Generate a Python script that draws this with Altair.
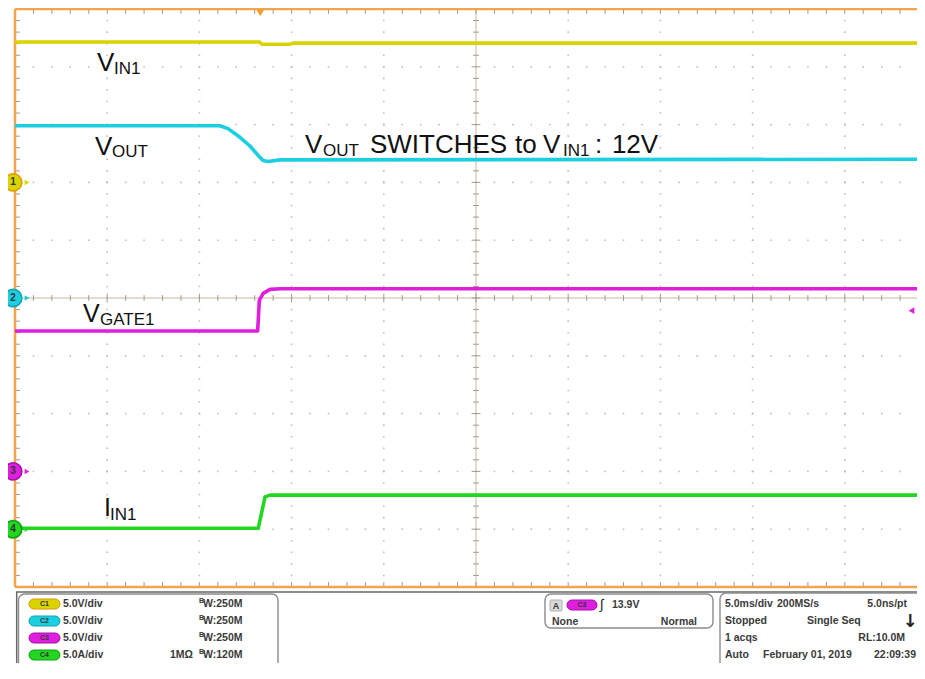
import altair as alt
import numpy as np
import pandas as pd

# ---------------- data ----------------
channels = ["C1", "C2", "C3", "C4"]
names = ["VIN1", "VOUT", "VGATE1", "IIN1"]
per_div = [5.0, 5.0, 5.0, 5.0]          # V/div (A/div for C4)
ground_div = [2.0, 0.0, -3.0, -4.0]     # ground-marker position, divisions from centre
trace_colors = ["#d9d300", "#1ccfe0", "#e01ee0", "#22d622"]
edge_colors = ["#e09a00", "#0fa5b5", "#a810a8", "#10a010"]

# time in ms, 5 ms/div, 0 = screen centre
vin1_t = [-25.0, -11.75, -11.6, -10.1, -9.9, 24.35]
vin1_v = [12.15, 12.15, 11.95, 11.95, 12.05, 12.05]
vout_t = [-25.0, -13.88, -13.45, -12.80, -12.26, -11.82, -11.55, -11.28, -10.63, 24.35]
vout_v = [14.9, 14.9, 14.65, 13.9, 13.15, 12.35, 11.9, 11.8, 11.95, 12.0]
vgate_t = [-25.0, -11.84, -11.75, -11.54, -11.17, -10.63, 24.35]
vgate_v = [12.15, 12.15, 14.8, 15.4, 15.75, 15.8, 15.8]
iin_t = [-25.0, -11.81, -11.44, -11.17, 24.35]
iin_a = [0.08, 0.08, 2.8, 2.95, 2.95]

trigger_t = -11.7
trigger_level_v = 13.9   # on C3

PX_PER_MS = 18.44
PLOT_W, PLOT_H = 902, 578
T0 = -25.0
T1 = T0 + PLOT_W / PX_PER_MS

xs = alt.Scale(domain=[T0, T1], nice=False, zero=False)
ys = alt.Scale(domain=[-5, 5], nice=False, zero=False)


def X(f="t"):
    return alt.X(f"{f}:Q", scale=xs, axis=None)


def Y(f="d"):
    return alt.Y(f"{f}:Q", scale=ys, axis=None)


layers = []

# ---------------- graticule ----------------
major_t = [-20, -15, -10, -5, 5, 10, 15, 20]
major_d = [-4, -3, -2, -1, 1, 2, 3, 4]
minor_t = [float(v) for v in np.arange(-25, 24, 1.0)]
minor_d = [round(float(v), 3) for v in np.arange(-5, 5.001, 0.2)]

dots = [{"t": a, "d": b} for a in major_t for b in minor_d] + \
       [{"t": a, "d": b} for b in major_d for a in minor_t]
layers.append(alt.Chart(pd.DataFrame(dots)).mark_square(size=2.5, color="#b8b8b8", opacity=0.9)
              .encode(x=X(), y=Y()))

# centre cross
layers.append(alt.Chart(pd.DataFrame({"t": [T0], "t2": [T1], "d": [0.0]}))
              .mark_rule(color="#c8b89e", strokeWidth=1)
              .encode(x=X(), x2="t2:Q", y=Y()))
layers.append(alt.Chart(pd.DataFrame({"t": [0.0], "d": [-5.0], "d2": [5.0]}))
              .mark_rule(color="#c8b89e", strokeWidth=1)
              .encode(x=X(), y=Y(), y2="d2:Q"))

tick_rows = []
for t in minor_t:
    big = (t % 5 == 0)
    h = 0.075 if big else 0.05
    tick_rows.append({"t": t, "t2": t, "d": -h, "d2": h})          # centre horizontal
    tick_rows.append({"t": t, "t2": t, "d": 5.0, "d2": 4.915})      # top border
    tick_rows.append({"t": t, "t2": t, "d": -5.0, "d2": -4.915})    # bottom border
for d in minor_d:
    big = abs(d - round(d)) < 1e-6
    w = 0.24 if big else 0.16
    tick_rows.append({"t": -w, "t2": w, "d": d, "d2": d})          # centre vertical
    tick_rows.append({"t": T0, "t2": T0 + 0.27, "d": d, "d2": d})  # left border
layers.append(alt.Chart(pd.DataFrame(tick_rows)).mark_rule(color="#a39a8a", strokeWidth=1)
              .encode(x=X(), x2="t2:Q", y=Y(), y2="d2:Q"))

# orange frame
frame = pd.DataFrame({"t": [T0, T0, T0], "t2": [T0, T1 + 1, T1 + 1],
                      "d": [-5.0, 5.0, -5.0], "d2": [5.0, 5.0, -5.0]})
layers.append(alt.Chart(frame).mark_rule(color="#f2a54a", strokeWidth=2.5, clip=False)
              .encode(x=X(), x2="t2:Q", y=Y(), y2="d2:Q"))

# ---------------- traces ----------------
rows = []
for ch, tt, vv, s, g in zip(channels, [vin1_t, vout_t, vgate_t, iin_t],
                            [vin1_v, vout_v, vgate_v, iin_a], per_div, ground_div):
    for i, (a, b) in enumerate(zip(tt, vv)):
        rows.append({"ch": ch, "i": i, "t": a, "val": b, "d": b / s + g})
traces = pd.DataFrame(rows)
layers.append(alt.Chart(traces).mark_line(strokeWidth=3.6, clip=True, strokeJoin="round")
              .encode(x=X(), y=Y(), order="i:Q",
                      color=alt.Color("ch:N", scale=alt.Scale(domain=channels, range=trace_colors),
                                      legend=None)))

# ---------------- annotations ----------------
ann = pd.DataFrame([
    {"text": "V", "t": -20.55, "d": 3.93, "fs": 26},
    {"text": "IN1", "t": -19.63, "d": 3.875, "fs": 17},
    {"text": "V", "t": -20.66, "d": 2.474, "fs": 26},
    {"text": "OUT", "t": -19.74, "d": 2.44, "fs": 17},
    {"text": "V", "t": -9.27, "d": 2.509, "fs": 26},
    {"text": "OUT", "t": -8.30, "d": 2.457, "fs": 17},
    {"text": "SWITCHES", "t": -5.75, "d": 2.509, "fs": 26},
    {"text": "to", "t": 2.12, "d": 2.509, "fs": 26},
    {"text": "V", "t": 3.63, "d": 2.509, "fs": 26},
    {"text": "IN1", "t": 4.72, "d": 2.457, "fs": 17},
    {"text": ":", "t": 6.45, "d": 2.509, "fs": 26},
    {"text": "12V", "t": 7.37, "d": 2.509, "fs": 26},
    {"text": "V", "t": -21.31, "d": -0.415, "fs": 25},
    {"text": "GATE1", "t": -20.39, "d": -0.467, "fs": 17},
    {"text": "I", "t": -20.17, "d": -3.77, "fs": 25},
    {"text": "IN1", "t": -19.85, "d": -3.84, "fs": 17},
])
layers.append(alt.Chart(ann).mark_text(align="left", baseline="alphabetic", font="Liberation Sans",
                                       color="#111111")
              .encode(x=X(), y=Y(), text="text:N", size=alt.Size("fs:Q", scale=None, legend=None)))

# ---------------- channel ground markers & trigger markers ----------------
mk = pd.DataFrame({"ch": channels, "lab": ["1", "2", "3", "4"], "t": [-25.1] * 4,
                   "ta": [-24.35] * 4, "d": ground_div})
ccol = alt.Scale(domain=channels, range=trace_colors)
layers.append(alt.Chart(mk).mark_point(shape="triangle-right", filled=True, size=30, opacity=1, clip=False)
              .encode(x=X("ta"), y=Y(), color=alt.Color("ch:N", scale=ccol, legend=None)))
layers.append(alt.Chart(mk).mark_circle(size=300, opacity=1, strokeWidth=1.6, clip=False)
              .encode(x=X(), y=Y(), color=alt.Color("ch:N", scale=ccol, legend=None),
                      stroke=alt.Stroke("ch:N", scale=alt.Scale(domain=channels, range=edge_colors),
                                        legend=None)))
layers.append(alt.Chart(mk).mark_text(fontSize=10, fontWeight="bold", color="#333333", font="Liberation Sans",
                                      clip=False)
              .encode(x=X(), y=Y(), text="lab:N"))

trig = pd.DataFrame({"t": [trigger_t], "d": [4.93]})
layers.append(alt.Chart(trig).mark_point(shape="triangle-down", filled=True, size=55, color="#f29a30",
                                         opacity=1)
              .encode(x=X(), y=Y()))
lvl = pd.DataFrame({"t": [T1 - 0.3], "d": [trigger_level_v / per_div[2] + ground_div[2]]})
layers.append(alt.Chart(lvl).mark_point(shape="triangle-left", filled=True, size=45, color="#e01ee0",
                                        opacity=1)
              .encode(x=X(), y=Y()))

# ---------------- info panel (layout in pixels below the graticule) ----------------
one = pd.DataFrame({"k": [0]})


def prect(x1, y1, x2, y2, fill="white", stroke="#8c8c8c", r=6, sw=1.4):
    return alt.Chart(one).mark_rect(fill=fill, stroke=stroke, cornerRadius=r, strokeWidth=sw, clip=False) \
        .encode(x=alt.value(x1), x2=alt.value(x2), y=alt.value(y1), y2=alt.value(y2))


def ptext(txt, px, py, size=10.5, align="left", weight="bold", color="#3a3a3a", font="Liberation Sans"):
    return alt.Chart(one).mark_text(align=align, baseline="middle", fontSize=size, fontWeight=weight,
                                    color=color, font=font, clip=False) \
        .encode(x=alt.value(px), y=alt.value(py), text=alt.value(txt))


layers.append(prect(1.7, 583, 940, 690, stroke="#6a6a6a", r=0, sw=1.5))
layers.append(prect(3.5, 585, 263, 668))
layers.append(prect(530, 585, 698, 619))
layers.append(prect(705, 584, 940, 690))

row_y = [595, 612, 629, 646]
scales_txt = ["5.0V/div", "5.0V/div", "5.0V/div", "5.0A/div"]
bw_txt = ["W:250M", "W:250M", "W:250M", "W:120M"]
for k in range(4):
    y = row_y[k]
    layers.append(prect(14, y - 5, 45, y + 5, fill=trace_colors[k], stroke=edge_colors[k], r=5, sw=1))
    layers.append(ptext(channels[k], 29.5, y, size=7, align="center", color="#333333"))
    layers.append(ptext(scales_txt[k], 48, y))
    layers.append(ptext("B", 184, y - 3, size=7))
    layers.append(ptext(bw_txt[k], 188, y))
layers.append(ptext("1MΩ", 155, row_y[3]))

# trigger box
layers.append(prect(535, 591, 547, 602, fill="#d9d9d9", stroke="#b0b0b0", r=1, sw=1))
layers.append(ptext("A", 541, 596.5, size=9, align="center"))
layers.append(prect(552, 591, 582, 601, fill=trace_colors[2], stroke=edge_colors[2], r=5, sw=1))
layers.append(ptext("C3", 567, 596, size=7, align="center", color="#333333"))
layers.append(ptext("∫", 585, 596, size=14, weight="normal", color="#222222"))
layers.append(ptext("13.9V", 597, 596))
layers.append(ptext("None", 537, 613))
layers.append(ptext("Normal", 682, 613, align="right"))

# acquisition box
layers.append(ptext("5.0ms/div", 710, row_y[0]))
layers.append(ptext("200MS/s", 762, row_y[0]))
layers.append(ptext("5.0ns/pt", 892, row_y[0], align="right"))
layers.append(ptext("Stopped", 710, row_y[1]))
layers.append(ptext("Single Seq", 792, row_y[1]))
layers.append(ptext("↓", 895, row_y[1] + 1, size=18, align="center", color="#222222", font="DejaVu Sans"))
layers.append(ptext("1 acqs", 710, row_y[2]))
layers.append(ptext("RL:10.0M", 890, row_y[2], align="right"))
layers.append(ptext("Auto", 710, row_y[3]))
layers.append(ptext("February 01, 2019", 748, row_y[3]))
layers.append(ptext("22:09:39", 901, row_y[3], align="right"))

chart = alt.layer(*layers).properties(
    width=PLOT_W, height=PLOT_H,
    autosize=alt.AutoSizeParams(type="none"),
    padding={"left": 7, "top": 1, "right": 0, "bottom": 76},
    background="white",
).configure_view(stroke=None)

chart.save("out.html", embed_options={"renderer": "svg", "actions": False})
